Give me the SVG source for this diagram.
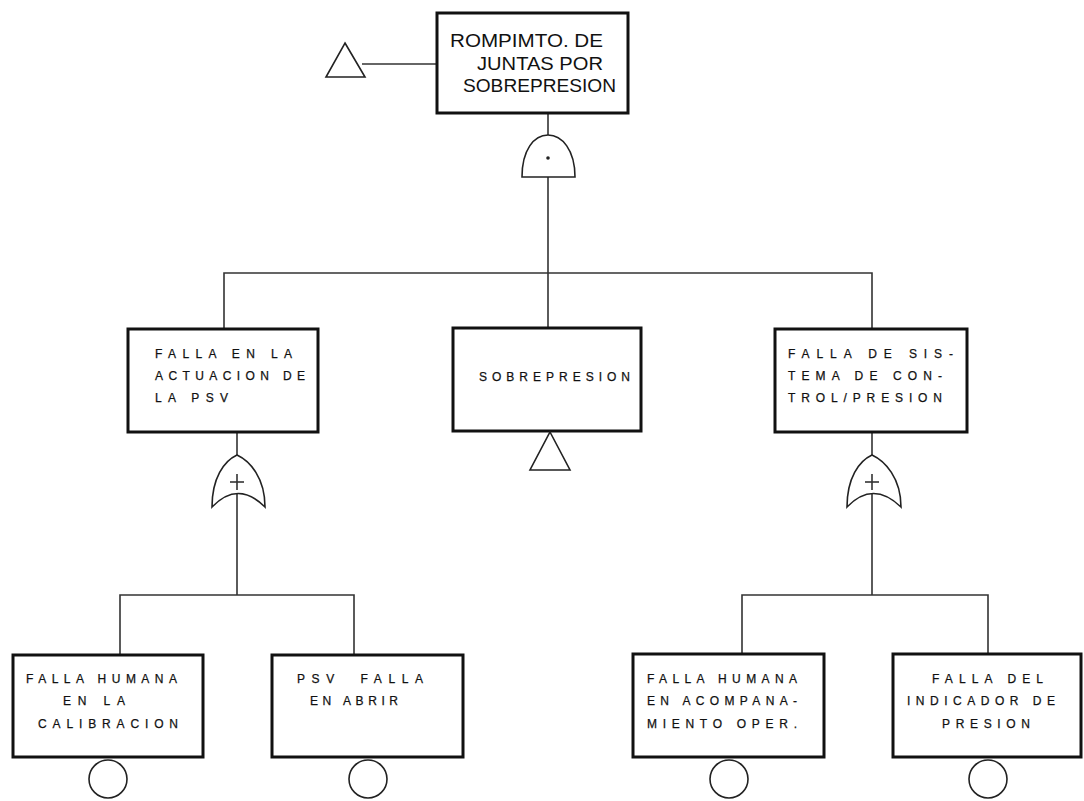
<svg xmlns="http://www.w3.org/2000/svg" width="1084" height="801" viewBox="0 0 1084 801">
<style>
.box{fill:#fff;stroke:#111;stroke-width:3}
.gate{fill:#fff;stroke:#222;stroke-width:1.6}
.ln{fill:none;stroke:#333;stroke-width:1.6}
.t{font-family:"Liberation Sans",Arial,sans-serif;font-size:12px;fill:#111;stroke:#111;stroke-width:0.25}
.tb{font-family:"Liberation Sans",Arial,sans-serif;font-size:18px;fill:#111}
</style>
<rect width="1084" height="801" fill="#fff"/>
<g id="connectors">
<line class="ln" x1="362" y1="64" x2="437" y2="64"/>
<line class="ln" x1="548" y1="113" x2="548" y2="135"/>
<line class="ln" x1="548" y1="177" x2="548" y2="273"/>
<polyline class="ln" points="224,329 224,273 872,273 872,329"/>
<line class="ln" x1="548" y1="273" x2="548" y2="328"/>
<line class="ln" x1="237" y1="432" x2="237" y2="455"/>
<line class="ln" x1="237" y1="490" x2="237" y2="595"/>
<polyline class="ln" points="120,655 120,595 354,595 354,655"/>
<line class="ln" x1="872" y1="432" x2="872" y2="455"/>
<line class="ln" x1="872" y1="490" x2="872" y2="595"/>
<polyline class="ln" points="742,654 742,595 988,595 988,654"/>
</g>
<g id="top-transfer">
<polygon class="gate" points="345,43 365,77 326,77"/>
</g>
<g id="top">
<rect class="box" x="437" y="13" width="191" height="100"/>
<text class="tb" x="450" y="47" textLength="153" lengthAdjust="spacingAndGlyphs">ROMPIMTO. DE</text>
<text class="tb" x="477" y="70" textLength="126" lengthAdjust="spacingAndGlyphs">JUNTAS POR</text>
<text class="tb" x="463" y="92" textLength="153" lengthAdjust="spacingAndGlyphs">SOBREPRESION</text>
</g>
<g id="and-gate">
<path class="gate" d="M522,177 C522,150 534,135 548,135 C562,135 575,150 575,177 Z"/>
<circle cx="548" cy="158" r="1.8" fill="#222"/>
</g>
<g id="falla-psv">
<rect class="box" x="128" y="329" width="190" height="103"/>
<text class="t" x="155" y="358" textLength="137" lengthAdjust="spacing">FALLA EN LA</text>
<text class="t" x="155" y="380" textLength="150" lengthAdjust="spacing">ACTUACION DE</text>
<text class="t" x="155" y="402" textLength="73" lengthAdjust="spacing">LA PSV</text>
</g>
<g id="sobrepresion">
<rect class="box" x="453" y="328" width="188" height="103"/>
<text class="t" x="479" y="381" textLength="151" lengthAdjust="spacing">SOBREPRESION</text>
<polygon class="gate" points="550,432 570,470 530,470"/>
</g>
<g id="falla-sistema">
<rect class="box" x="775" y="329" width="192" height="103"/>
<text class="t" x="788" y="358" textLength="165" lengthAdjust="spacing">FALLA DE SIS-</text>
<text class="t" x="788" y="380" textLength="154" lengthAdjust="spacing">TEMA DE CON-</text>
<text class="t" x="788" y="402" textLength="154" lengthAdjust="spacing">TROL/PRESION</text>
</g>
<g id="or-gate-left">
<path class="gate" d="M212,507 C212,478 224,461 237,455 C250,461 265,478 265,507 Q238,480 212,507 Z"/>
<line class="ln" x1="230" y1="482" x2="244" y2="482"/>
<line class="ln" x1="237" y1="474" x2="237" y2="490"/>
</g>
<g id="or-gate-right">
<path class="gate" d="M847,507 C847,478 859,461 872,455 C885,461 901,478 901,507 Q873,480 847,507 Z"/>
<line class="ln" x1="865" y1="482" x2="879" y2="482"/>
<line class="ln" x1="872" y1="474" x2="872" y2="490"/>
</g>
<g id="falla-humana-calibracion">
<rect class="box" x="13" y="655" width="190" height="102"/>
<text class="t" x="26" y="683" textLength="151" lengthAdjust="spacing">FALLA HUMANA</text>
<text class="t" x="63" y="705" textLength="62" lengthAdjust="spacing">EN LA</text>
<text class="t" x="38" y="728" textLength="140" lengthAdjust="spacing">CALIBRACION</text>
<circle class="gate" cx="108" cy="779" r="19"/>
</g>
<g id="psv-falla-abrir">
<rect class="box" x="272" y="655" width="191" height="102"/>
<text class="t" x="297" y="683" textLength="126" lengthAdjust="spacing" xml:space="preserve">PSV  FALLA</text>
<text class="t" x="310" y="705" textLength="88" lengthAdjust="spacing">EN ABRIR</text>
<circle class="gate" cx="368" cy="779" r="19"/>
</g>
<g id="falla-humana-acompanamiento">
<rect class="box" x="633" y="654" width="191" height="103"/>
<text class="t" x="647" y="683" textLength="150" lengthAdjust="spacing">FALLA HUMANA</text>
<text class="t" x="647" y="705" textLength="150" lengthAdjust="spacing">EN ACOMPANA-</text>
<text class="t" x="647" y="728" textLength="150" lengthAdjust="spacing">MIENTO OPER.</text>
<circle class="gate" cx="729" cy="779" r="19"/>
</g>
<g id="falla-indicador">
<rect class="box" x="893" y="654" width="188" height="103"/>
<text class="t" x="932" y="683" textLength="111" lengthAdjust="spacing">FALLA DEL</text>
<text class="t" x="907" y="705" textLength="148" lengthAdjust="spacing">INDICADOR DE</text>
<text class="t" x="942" y="728" textLength="88" lengthAdjust="spacing">PRESION</text>
<circle class="gate" cx="988" cy="779" r="19"/>
</g>
</svg>
